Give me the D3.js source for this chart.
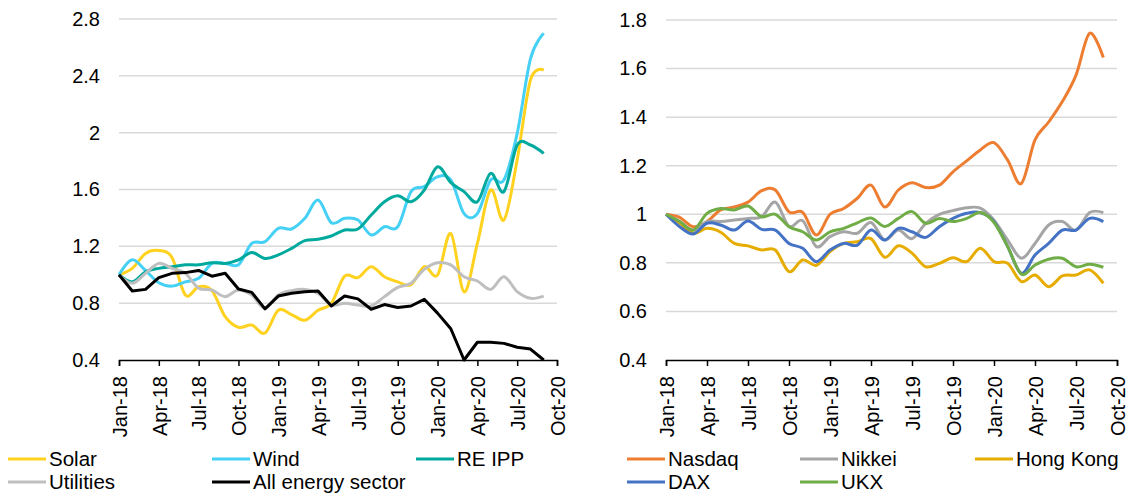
<!DOCTYPE html>
<html>
<head>
<meta charset="utf-8">
<script src="https://cdn.jsdelivr.net/npm/d3@7"></script>
<style>
body { margin: 0; background: #fff; }
svg { font-family: "Liberation Sans", Arial, sans-serif; }
.grid line { stroke: #d9d9d9; stroke-width: 1.5; }
.axis path, .axis line { stroke: #000; stroke-width: 1.5; }
.axis text { fill: #000; font-size: 20px; }
</style>
</head>
<body>
<svg id="chart" width="1130" height="494"></svg>
<script>
'use strict';

// month index 0 = Jan-18 ... 32 = Sep-20
var tickLabels = ['Jan-18', 'Apr-18', 'Jul-18', 'Oct-18', 'Jan-19', 'Apr-19',
                  'Jul-19', 'Oct-19', 'Jan-20', 'Apr-20', 'Jul-20', 'Oct-20'];

// left panel
var solar = [1.00, 1.045, 1.15, 1.17, 1.12, 0.857, 0.915, 0.89, 0.705, 0.63, 0.646, 0.59,
             0.75, 0.72, 0.68, 0.75, 0.80, 0.99, 0.98, 1.057, 0.986, 0.95, 0.93, 1.057,
             0.998, 1.29, 0.88, 1.22, 1.597, 1.385, 1.81, 2.37, 2.44];
var wind = [1.00, 1.105, 1.03, 0.944, 0.92, 0.95, 0.975, 1.08, 1.08, 1.07, 1.22, 1.233,
            1.327, 1.322, 1.397, 1.526, 1.366, 1.397, 1.385, 1.28, 1.338, 1.338, 1.585, 1.62,
            1.69, 1.667, 1.43, 1.43, 1.667, 1.667, 1.995, 2.52, 2.70];
var reIpp = [1.00, 0.95, 1.02, 1.045, 1.057, 1.07, 1.07, 1.085, 1.08, 1.104, 1.157, 1.115,
             1.14, 1.186, 1.24, 1.25, 1.273, 1.315, 1.322, 1.42, 1.514, 1.556, 1.514, 1.596,
             1.76, 1.648, 1.585, 1.514, 1.714, 1.585, 1.913, 1.913, 1.854];
var utilities = [1.00, 0.94, 1.01, 1.08, 1.045, 1.01, 0.905, 0.893, 0.846, 0.893, 0.857, 0.764,
                 0.857, 0.888, 0.897, 0.869, 0.787, 0.80, 0.787, 0.78, 0.846, 0.911, 0.94, 1.038,
                 1.085, 1.069, 0.986, 0.956, 0.897, 0.986, 0.881, 0.834, 0.85];
var allEnergy = [1.00, 0.886, 0.897, 0.98, 1.01, 1.015, 1.03, 0.99, 1.01, 0.90, 0.876, 0.76,
                 0.85, 0.87, 0.88, 0.885, 0.78, 0.85, 0.83, 0.757, 0.79, 0.77, 0.78, 0.827,
                 0.73, 0.62, 0.40, 0.525, 0.525, 0.517, 0.49, 0.477, 0.40];

// right panel
var nasdaq = [1.0, 0.987, 0.949, 0.97, 1.018, 1.03, 1.05, 1.097, 1.10, 1.01, 1.008, 0.915,
              1.0, 1.024, 1.066, 1.12, 1.03, 1.10, 1.13, 1.11, 1.12, 1.175, 1.22, 1.265,
              1.295, 1.223, 1.127, 1.306, 1.38, 1.464, 1.573, 1.745, 1.646];
var nikkei = [1.0, 0.97, 0.935, 0.97, 0.97, 0.976, 0.983, 0.99, 1.05, 0.95, 0.974, 0.867,
              0.908, 0.928, 0.922, 0.966, 0.894, 0.935, 0.90, 0.963, 1.0, 1.015, 1.027, 1.025,
              0.976, 0.894, 0.819, 0.88, 0.956, 0.97, 0.935, 1.007, 1.007];
var hongKong = [1.0, 0.963, 0.922, 0.942, 0.926, 0.88, 0.87, 0.853, 0.853, 0.764, 0.812, 0.79,
                0.846, 0.88, 0.887, 0.90, 0.823, 0.87, 0.84, 0.784, 0.798, 0.821, 0.805, 0.86,
                0.805, 0.798, 0.723, 0.75, 0.702, 0.746, 0.75, 0.771, 0.716];
var dax = [1.0, 0.949, 0.919, 0.963, 0.956, 0.935, 0.972, 0.938, 0.935, 0.88, 0.86, 0.805,
           0.853, 0.88, 0.873, 0.935, 0.894, 0.942, 0.928, 0.905, 0.949, 0.983, 1.004, 1.007,
           0.97, 0.867, 0.757, 0.832, 0.88, 0.935, 0.935, 0.983, 0.97];
var ukx = [1.0, 0.97, 0.935, 1.004, 1.024, 1.018, 1.034, 0.99, 1.0, 0.949, 0.928, 0.894,
           0.928, 0.942, 0.965, 0.985, 0.95, 0.983, 1.011, 0.963, 0.983, 0.97, 0.983, 1.007,
           0.966, 0.867, 0.754, 0.791, 0.815, 0.819, 0.784, 0.794, 0.782];

var svg = d3.select('#chart');

function drawPanel(opts) {
    var x = d3.scaleLinear().domain([0, 33]).range([opts.left, opts.right]);
    var y = d3.scaleLinear().domain(opts.yDomain).range([360, opts.top]);
    var yTicks = d3.range(opts.yDomain[0], opts.yDomain[1] + 1e-9, opts.yStep);

    // Gridlines
    svg.append('g')
        .attr('class', 'grid')
        .selectAll('line')
        .data(yTicks.slice(1))
        .enter().append('line')
        .attr('x1', opts.left)
        .attr('x2', opts.right)
        .attr('y1', function(d) { return y(d); })
        .attr('y2', function(d) { return y(d); });

    // Y Axis Ticks
    var yAxis = svg.append('g')
        .attr('class', 'axis')
        .attr('transform', 'translate(' + opts.left + ',0)')
        .call(d3.axisLeft(y).tickValues(yTicks).tickSize(0).tickPadding(19)
            .tickFormat(function(d) { return String(+d.toFixed(1)); }));
    yAxis.select('.domain').remove();

    // X Axis Ticks
    svg.append('g')
        .attr('class', 'axis')
        .attr('transform', 'translate(0,360)')
        .call(d3.axisBottom(x).tickValues(d3.range(0, 34, 3)).tickSizeOuter(6).tickSize(6)
            .tickFormat(function(d, i) { return tickLabels[i]; }))
        .selectAll('text')
            .style('text-anchor', 'end')
            .attr('x', -16)
            .attr('y', 0)
            .attr('dx', 0)
            .attr('dy', '0.36em')
            .attr('transform', 'rotate(-90)');

    // Lines
    opts.series.forEach(function(s) {
        var line = d3.line()
            .x(function(d, i) { return x(i); })
            .y(function(d) { return y(d); })
            .curve(s.smooth ? d3.curveCatmullRom.alpha(0) : d3.curveLinear);
        svg.append('path')
            .datum(s.values)
            .attr('fill', 'none')
            .attr('stroke', s.color)
            .attr('stroke-width', 3)
            .attr('stroke-linejoin', 'round')
            .attr('d', line);
    });

    // Legend
    opts.series.forEach(function(s, i) {
        var lx = opts.legendX[i % 3], ly = i < 3 ? 459 : 482;
        svg.append('line')
            .attr('x1', lx).attr('x2', lx + 38)
            .attr('y1', ly).attr('y2', ly)
            .attr('stroke', s.color)
            .attr('stroke-width', 3);
        svg.append('text')
            .attr('x', lx + 41)
            .attr('y', ly)
            .attr('dy', '0.36em')
            .style('font-size', '20.5px')
            .text(s.name);
    });
}

drawPanel({
    left: 119, right: 557, top: 19,
    yDomain: [0.4, 2.8], yStep: 0.4,
    legendX: [8, 212, 416],
    series: [
        { name: 'Solar', values: solar, color: '#ffd21f', smooth: true },
        { name: 'Wind', values: wind, color: '#45d0f5', smooth: true },
        { name: 'RE IPP', values: reIpp, color: '#00a99d', smooth: true },
        { name: 'Utilities', values: utilities, color: '#bfbfbf', smooth: true },
        { name: 'All energy sector', values: allEnergy, color: '#000000', smooth: false }
    ]
});

drawPanel({
    left: 666, right: 1117, top: 20,
    yDomain: [0.4, 1.8], yStep: 0.2,
    legendX: [627, 800, 975],
    series: [
        { name: 'Nasdaq', values: nasdaq, color: '#ed7d31', smooth: true },
        { name: 'Nikkei', values: nikkei, color: '#a5a5a5', smooth: true },
        { name: 'Hong Kong', values: hongKong, color: '#e6ac00', smooth: true },
        { name: 'DAX', values: dax, color: '#4472c4', smooth: true },
        { name: 'UKX', values: ukx, color: '#70ad47', smooth: true }
    ]
});
</script>
</body>
</html>
